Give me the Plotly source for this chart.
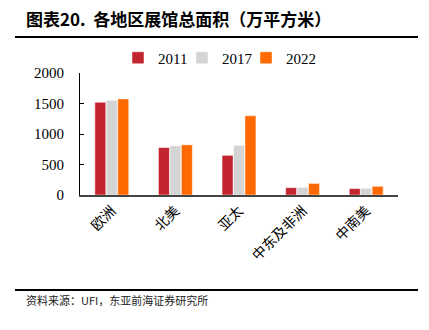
import plotly.graph_objects as go

# Exhibition hall floor area by region (10k m²)
regions = ["欧洲", "北美", "亚太", "中东及非洲", "中南美"]
years = ["2011", "2017", "2022"]
area_2011 = [1520, 778, 650, 120, 105]
area_2017 = [1555, 805, 815, 125, 110]
area_2022 = [1575, 822, 1300, 190, 142]
series = [area_2011, area_2017, area_2022]
colors = ["#C3252F", "#D4D4D4", "#FF6A00"]

W, H = 429, 330
L, R, T, B = 80, 31, 73, 135
pw, ph = W - L - R, H - T - B

def px(p):
    return (p - L) / pw

def py(p):
    return (H - B - p) / ph

cjk = "Noto Sans CJK SC"
serif = "Liberation Serif"

# each series gets its own legend box so the entries can sit close together
legend_ids = ["legend", "legend2", "legend3"]
legend_left = [118, 182, 246]

fig = go.Figure()
for yr, vals, col, lg in zip(years, series, colors, legend_ids):
    fig.add_trace(go.Bar(
        x=regions, y=vals, name=yr, legend=lg,
        marker=dict(color=col, line=dict(color="rgba(255,255,255,0.6)", width=0.8)),
    ))

legend_style = dict(
    orientation="h", yanchor="middle", xanchor="left",
    font=dict(family=serif, size=15, color="black"),
    itemwidth=30, bgcolor="rgba(0,0,0,0)", borderwidth=0,
)

fig.update_layout(
    width=W, height=H,
    margin=dict(l=L, r=R, t=T, b=B),
    paper_bgcolor="white", plot_bgcolor="white",
    barmode="group", bargap=0.46, bargroupgap=0.04,
    showlegend=True,
    legend=dict(x=px(legend_left[0]), y=py(58), **legend_style),
    legend2=dict(x=px(legend_left[1]), y=py(58), **legend_style),
    legend3=dict(x=px(legend_left[2]), y=py(58), **legend_style),
    xaxis=dict(
        showline=True, linecolor="#444444", linewidth=2,
        ticks="", tickangle=-45,
        tickfont=dict(family=cjk, size=14, color="black"),
        showgrid=False,
    ),
    yaxis=dict(
        range=[0, 2000], tickvals=[0, 500, 1000, 1500, 2000],
        showline=True, linecolor="black", linewidth=1,
        ticks="inside", ticklen=4, tickcolor="black",
        ticklabelstandoff=12,
        tickfont=dict(family=serif, size=15, color="black"),
        showgrid=False, zeroline=False,
    ),
    annotations=[
        dict(text="<b>图表20.  各地区展馆总面积（万平方米）</b>", xref="paper", yref="paper",
             x=px(24), y=py(19), xanchor="left", yanchor="middle", showarrow=False,
             font=dict(family=cjk, size=17, color="black")),
        dict(text="资料来源：UFI，东亚前海证券研究所", xref="paper", yref="paper",
             x=px(24), y=py(300), xanchor="left", yanchor="middle", showarrow=False,
             font=dict(family=cjk, size=11, color="#222222")),
    ],
    shapes=[
        dict(type="line", xref="paper", yref="paper", x0=px(15), x1=px(418),
             y0=py(37), y1=py(37), line=dict(color="black", width=2)),
        dict(type="line", xref="paper", yref="paper", x0=px(15), x1=px(418),
             y0=py(290), y1=py(290), line=dict(color="black", width=2)),
    ],
)

fig.write_html("out.html")
